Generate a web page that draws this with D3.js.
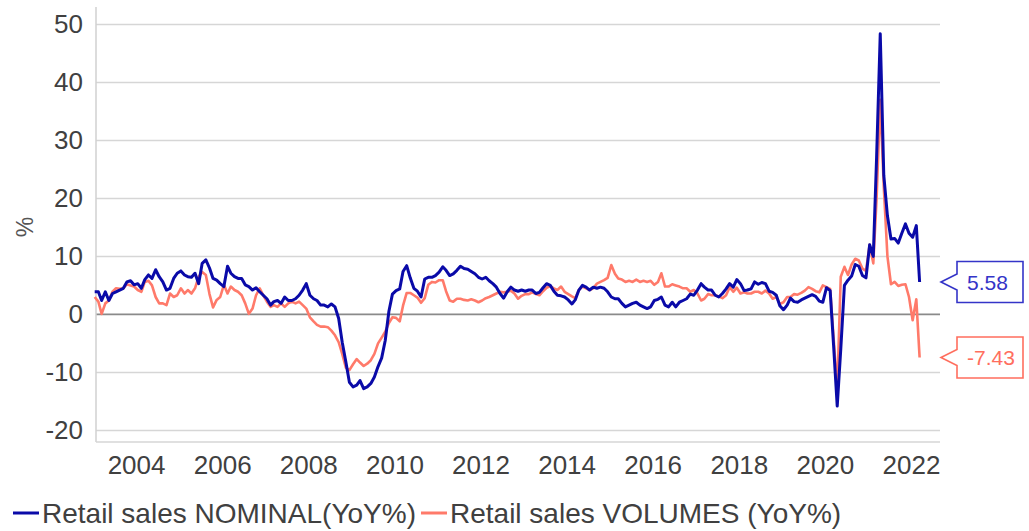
<!DOCTYPE html>
<html>
<head>
<meta charset="utf-8">
<script src="https://cdn.jsdelivr.net/npm/d3@7"></script>
<style>
  body { margin: 0; background: #fff; }
  svg { font-family: "Liberation Sans", Arial, sans-serif; }
</style>
</head>
<body>
<svg id="chart"></svg>
<script>
// monthly series, first point Jan 2003, last point Mar 2022
var firstMonth = [2003, 0];
var seriesNames = ["Retail sales NOMINAL(YoY%)", "Retail sales VOLUMES (YoY%)"];
var nominal = [
  3.9, 3.9, 2.4, 3.9, 2.4, 3.6, 3.9, 4.2, 4.5, 5.6,
  5.8, 5.1, 5.3, 4.5, 6.0, 6.8, 6.2, 7.7, 6.5, 5.6,
  4.2, 4.5, 6.2, 7.1, 7.5, 6.8, 6.5, 6.4, 7.1, 5.3,
  8.8, 9.4, 8.0, 6.2, 5.9, 5.3, 4.8, 8.3, 7.1, 6.5,
  6.2, 6.2, 5.1, 4.8, 4.2, 4.6, 3.9, 3.3, 2.7, 1.6,
  2.2, 2.4, 1.9, 3.0, 2.4, 2.4, 2.7, 3.3, 4.2, 5.3,
  3.3, 2.7, 2.4, 1.6, 1.6, 1.3, 1.8, 1.3, -0.7, -4.8,
  -8.2, -11.7, -12.5, -12.2, -11.4, -12.8, -12.5, -11.9, -10.8, -9.0,
  -7.5, -4.5, 0.5, 3.5, 4.1, 4.4, 7.4, 8.4, 6.3, 4.5,
  4.0, 3.0, 6.1, 6.4, 6.4, 6.7, 7.3, 8.2, 7.6, 6.7,
  7.0, 7.6, 8.3, 7.9, 7.8, 7.4, 7.0, 6.4, 6.1, 6.4,
  5.8, 5.3, 4.7, 3.6, 2.8, 3.9, 4.7, 4.2,
  4.0, 4.2, 4.0, 4.2, 4.2, 3.6, 3.8, 4.6, 5.3, 5.0,
  4.0, 3.3, 3.2, 3.0, 2.5, 1.8, 2.5, 4.2, 5.0, 4.7,
  4.2, 4.7, 4.5, 4.7, 4.5, 3.9, 3.0, 2.7, 2.7, 1.9,
  1.3, 1.6, 1.9, 2.1, 1.6, 1.3, 1.0, 1.3, 2.4, 2.6,
  3.0, 1.6, 1.3, 2.1, 1.3, 2.1, 2.4, 2.7, 3.5, 3.3,
  4.2, 5.3, 4.7, 4.2, 4.2, 3.3, 3.0, 3.6, 4.4,
  5.3, 4.7, 6.0, 5.3, 4.1, 4.2, 4.4, 5.6, 5.2, 5.5,
  5.3, 4.0, 3.8, 3.3, 1.5, 0.8, 1.6, 2.8, 2.2, 2.1,
  2.5, 2.8, 3.1, 3.4, 3.1, 2.3, 2.1, 4.6, 4.1,
  -5.3, -15.8, -6.0, 5.0, 5.9, 6.6, 8.6, 8.3, 6.7, 6.3,
  12.0, 10.0, 27.0, 48.4, 24.0, 17.0, 13.0, 13.1, 12.3, 14.0,
  15.6, 14.0, 13.3, 15.3, 5.58
];
var volumes = [
  3.0, 2.2, 0.1, 1.9, 2.4, 3.9, 4.5, 4.4, 4.5, 5.2,
  5.0, 4.8, 4.2, 3.9, 5.6, 5.8, 5.0, 3.0, 1.9, 1.9,
  1.6, 3.6, 3.0, 3.3, 4.5, 3.6, 4.2, 3.6, 4.5, 6.5,
  7.3, 6.8, 3.5, 1.2, 2.5, 3.0,
  5.1, 3.6, 4.8, 4.2, 3.9, 3.3, 1.9, 0.1, 1.0, 3.3,
  4.5, 3.3, 2.2, 1.3, 1.6, 1.3, 1.9, 1.3, 1.9, 2.2,
  1.9, 2.2, 1.6, 1.0,
  -0.5, -1.2, -1.8, -2.1, -2.1, -2.2, -2.8, -3.6, -4.8, -6.8,
  -9.2, -9.6, -8.6, -7.7, -8.3, -8.9, -8.5, -7.9, -6.8, -5.0,
  -4.0, -3.0, -1.5, -0.5, -0.6, -1.2, 1.5, 3.7, 3.7, 3.3,
  2.9, 2.0, 2.8, 5.1, 5.6, 5.5, 5.9, 5.9, 4.0, 2.4,
  2.2, 2.7, 2.7, 2.5, 2.4, 2.6, 2.4, 2.1, 2.4, 2.8,
  3.0, 3.3, 3.6, 3.9, 3.8, 3.9, 4.1, 3.6,
  2.7, 3.2, 3.5, 3.5, 3.8, 3.5, 3.3, 4.0, 4.6, 4.9,
  4.5, 4.2, 4.8, 3.9, 3.5, 3.1, 2.8, 4.2, 4.8, 4.5,
  4.2, 4.5, 5.3, 5.6, 5.9, 6.3, 8.5, 7.0, 6.2, 6.0,
  5.6, 5.8, 5.6, 6.0, 5.6, 5.8, 5.6, 5.8, 5.1, 5.6,
  7.1, 4.8, 4.8, 5.2, 5.0, 4.8, 4.5, 4.5, 3.9, 4.2,
  3.6, 2.4, 2.7, 3.5, 3.3, 3.3, 3.1, 2.8, 3.3,
  4.7, 3.9, 4.6, 3.6, 3.8, 3.6, 3.6, 3.9, 3.9, 3.6,
  4.1, 3.6, 2.7, 3.0, 1.8, 2.1, 3.0, 3.0, 3.5, 3.4,
  3.7, 4.1, 4.7, 4.4, 4.0, 3.8, 5.0, 4.7, 4.4,
  -4.0, -13.0, 6.5, 8.2, 6.8, 8.6, 9.6, 9.3, 7.9, 7.5,
  12.0, 8.8, 20.0, 37.0, 22.0, 10.0, 5.2, 5.6, 4.9, 5.1,
  5.2, 3.0, -1.0, 2.6, -7.43
];
var yTicks = [-20, -10, 0, 10, 20, 30, 40, 50];
var xTickYears = [2004, 2006, 2008, 2010, 2012, 2014, 2016, 2018, 2020, 2022];
var colors = ["#0a0aa8", "#ff7a6a"];
var labelColors = ["#3434c8", "#ff6e5e"];

var W = 1029, H = 531;
var margin = {top: 7, right: 89, bottom: 89, left: 96};
var width = W - margin.left - margin.right,
    height = H - margin.top - margin.bottom;

var svg1 = d3.select("#chart").attr("width", W).attr("height", H);
var svg = svg1.append("g").attr("transform", `translate(${margin.left},${margin.top})`);

function monthDate(i){ return new Date(firstMonth[0], firstMonth[1] + i, 15); }

const x = d3.scaleTime()
  .domain([new Date(2003, 0, 26), new Date(2022, 8, 4)])
  .range([0, width]);
const y = d3.scaleLinear()
  .domain([-22, 53])
  .range([height, 0]);

/** gridlines */
svg.selectAll(".grid").data(yTicks).join("line")
  .attr("class", "grid")
  .attr("x1", 0).attr("x2", width)
  .attr("y1", d => y(d)).attr("y2", d => y(d))
  .attr("stroke", d => d === 0 ? "#8a8a8a" : "#d6d6d6")
  .attr("stroke-width", d => d === 0 ? 1.6 : 1.5);

// frame: left and bottom
svg.append("line").attr("x1", 0).attr("x2", 0).attr("y1", 0).attr("y2", height)
  .attr("stroke", "#d0d0d0").attr("stroke-width", 1.5);
svg.append("line").attr("x1", 0).attr("x2", width).attr("y1", height).attr("y2", height)
  .attr("stroke", "#d6d6d6").attr("stroke-width", 1.5);

/** Y axis */
svg.append("g")
  .call(d3.axisLeft(y).tickValues(yTicks).tickSize(0).tickPadding(13)
    .tickFormat(d => String(d)))
  .call(g => g.select(".domain").remove())
  .selectAll("text")
  .attr("font-size", "26px").attr("fill", "#404040")
  .attr("font-family", "Liberation Sans, Arial, sans-serif");

/** X axis */
svg.append("g")
  .attr("transform", `translate(0,${height})`)
  .call(d3.axisBottom(x).tickValues(xTickYears.map(yr => new Date(yr, 0, 1)))
    .tickFormat(d3.timeFormat("%Y")).tickSize(0).tickPadding(14))
  .call(g => g.select(".domain").remove())
  .selectAll("text")
  .attr("font-size", "26px").attr("fill", "#404040")
  .attr("font-family", "Liberation Sans, Arial, sans-serif");

// y title
svg1.append("text")
  .attr("transform", "translate(33,227) rotate(-90)")
  .attr("text-anchor", "middle")
  .attr("font-size", "23px").attr("fill", "#555")
  .text("%");

/** lines: volumes first, nominal on top */
var series = [nominal, volumes];
var line = d3.line()
  .x((d, i) => x(monthDate(i)))
  .y(d => y(d));
svg.selectAll(".lineCharts").data([1, 0]).join("path")
  .attr("class", "lineCharts")
  .attr("fill", "none")
  .attr("stroke", d => colors[d])
  .attr("stroke-width", d => d === 0 ? 3 : 2.6)
  .attr("stroke-linejoin", "round")
  .attr("d", d => line(series[d]));

/** last-value callouts */
var boxW = 66, boxH = 41, notch = 8;
var callouts = svg.selectAll(".callout").data([0, 1]).join("g")
  .attr("class", "callout")
  .attr("transform", d => `translate(${width + 1},${y(series[d][series[d].length - 1])})`);
callouts.append("path")
  .attr("fill", "#fff")
  .attr("stroke", d => labelColors[d])
  .attr("stroke-width", 1.6)
  .attr("d", `M0,0 L16,${-notch} L16,${-boxH / 2} L${16 + boxW},${-boxH / 2} L${16 + boxW},${boxH / 2} L16,${boxH / 2} L16,${notch} Z`);
callouts.append("text")
  .attr("x", 26).attr("y", 0)
  .attr("dy", "0.36em")
  .attr("font-size", "21px")
  .attr("fill", d => labelColors[d])
  .text(d => series[d][series[d].length - 1].toFixed(2));

/** legend */
var legend = svg1.append("g").attr("transform", "translate(0,513)");
var legX = [13, 421];
legend.selectAll(".legendLine").data([0, 1]).join("line")
  .attr("class", "legendLine")
  .attr("x1", d => legX[d]).attr("x2", d => legX[d] + 26)
  .attr("y1", 0).attr("y2", 0)
  .attr("stroke", d => colors[d]).attr("stroke-width", 3);
legend.selectAll(".legendText").data([0, 1]).join("text")
  .attr("class", "legendText")
  .attr("x", d => legX[d] + 29).attr("y", 0)
  .attr("dy", "0.35em")
  .attr("font-size", "28px").attr("fill", "#404040")
  .text(d => seriesNames[d]);
</script>
</body>
</html>
